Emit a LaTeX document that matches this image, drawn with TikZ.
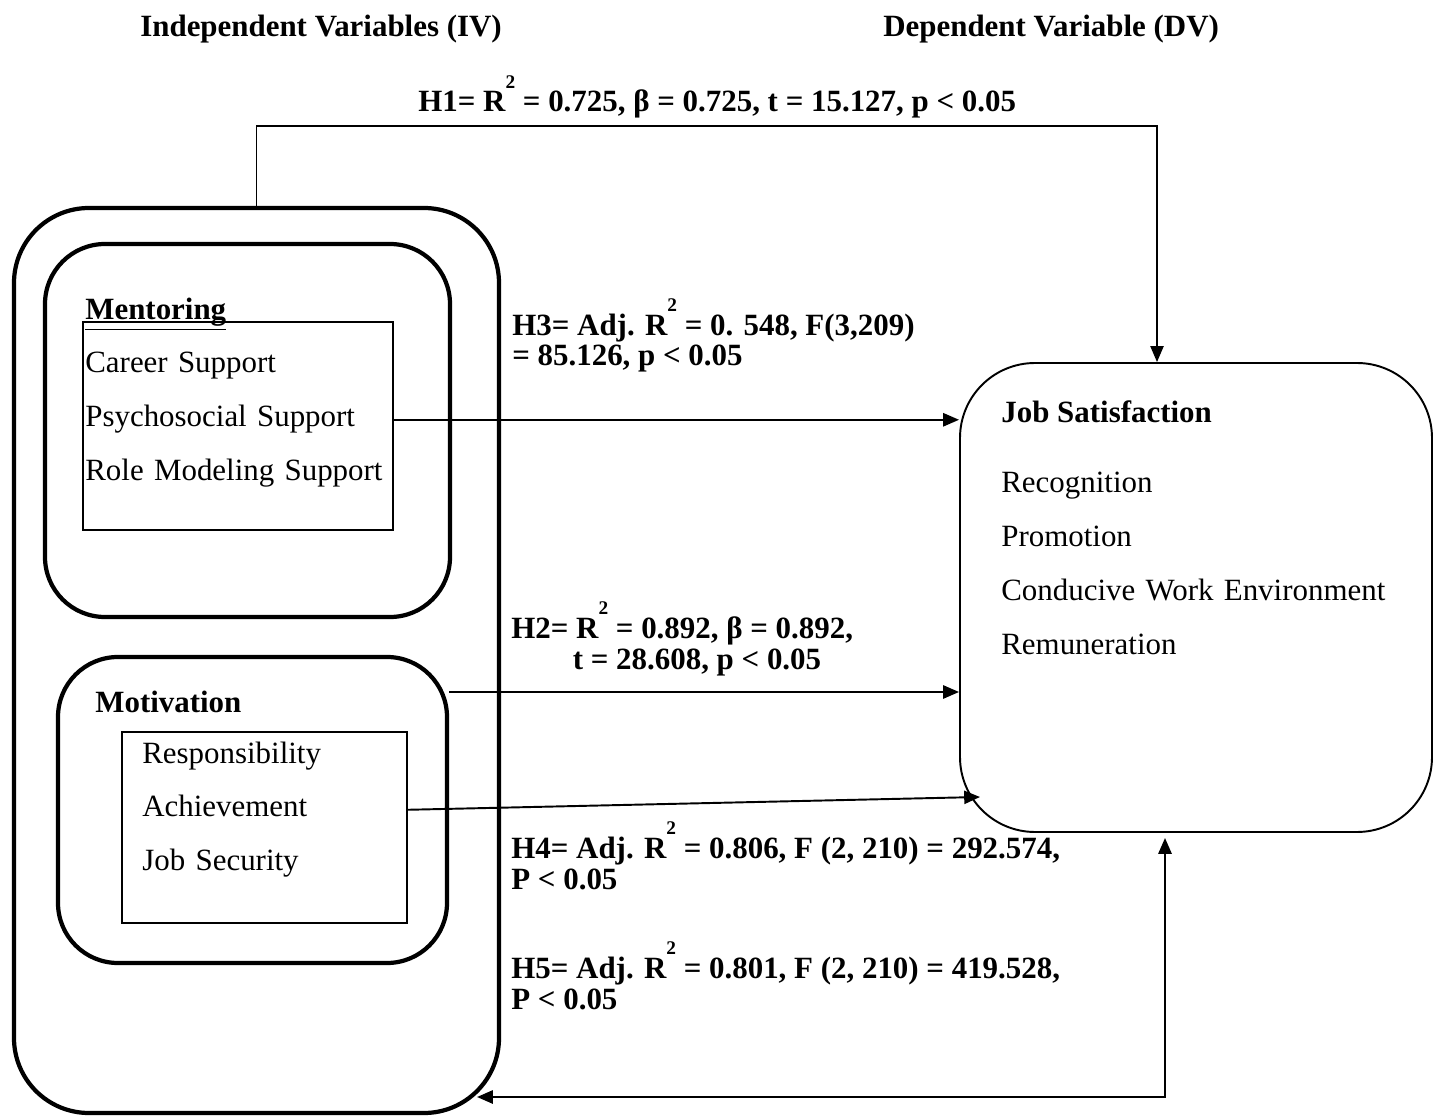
\documentclass[tikz,border=0pt]{standalone}
\usepackage{fontspec}
\setmainfont{Liberation Serif}
\usepackage{tikz}
\usetikzlibrary{arrows.meta, positioning, fit}

\newcommand{\Rsq}{R\raisebox{13.5pt}[0pt][0pt]{\fontsize{11}{11}\selectfont\bfseries 2}}

\begin{document}
\begin{tikzpicture}[
    x=0.02cm, y=-0.02cm,
    node distance=0.5cm,
    every node/.style={font=\fontsize{17.6}{17.6}\selectfont, inner sep=0pt, align=left},
    bigbox/.style={rectangle, draw, line width=2.4pt, rounded corners=1.5cm},
    groupbox/.style={rectangle, draw, line width=2.4pt, rounded corners=1.2cm},
    listbox/.style={rectangle, draw, line width=0.75pt},
    dvbox/.style={rectangle, draw, line width=1.1pt, rounded corners=1.5cm},
    heading/.style={font=\fontsize{17.6}{17.6}\selectfont\bfseries, anchor=base west},
    stat/.style={font=\fontsize{17.6}{17.6}\selectfont\bfseries, anchor=base west},
    item/.style={text height=12pt, text depth=4pt},
    arrow/.style={-{Triangle[length=9pt, width=7.5pt]}, line width=1.1pt},
    dblarrow/.style={{Triangle[length=9pt, width=7.5pt]}-{Triangle[length=9pt, width=7.5pt]}, line width=1.2pt}
]
\useasboundingbox (0,0) rectangle (1438,1118);

% headings
\node (ivhead) [heading] at (140,37) {Independent Variables (IV)};
\node (dvhead) [heading] at (883,37) {Dependent Variable (DV)};

% independent variables
\node (iv)    [bigbox, fit={(14,208) (499,1113)}] {};
\node (ment)  [groupbox, fit={(45,244) (450,617)}] {};
\node (mlist) [listbox, fit={(83,322) (393,530)}] {};
\node (mot)   [groupbox, fit={(58,657) (447,963)}] {};
\node (vlist) [listbox, fit={(122,732) (407,923)}] {};

\node (menthead) [heading] at (85,320) {\underline{Mentoring}};
\node (career) [item, text width=6cm, anchor=base west] at (85,373) {Career Support};
\node (psy)    [item, text width=6cm, below=of career] {Psychosocial Support};
\node (role)   [item, text width=6cm, below=of psy] {Role Modeling Support};

\node (mothead) [heading] at (95,712) {Motivation};
\node (resp) [item, text width=5cm, anchor=base west] at (142,763) {Responsibility};
\node (ach)  [item, text width=5cm, below=of resp] {Achievement};
\node (sec)  [item, text width=5cm, below=of ach] {Job Security};

% dependent variable
\node (js)     [dvbox, fit={(960,363) (1432,832)}] {};
\node (jshead) [heading] at (1001,423) {Job Satisfaction};
\node (recog)  [item, text width=8.5cm, anchor=base west] at (1001,493) {Recognition};
\node (promo)  [item, text width=8.5cm, below=of recog] {Promotion};
\node (env)    [item, text width=8.5cm, below=of promo] {Conducive Work Environment};
\node (remun)  [item, text width=8.5cm, below=of env] {Remuneration};

% hypotheses (base = last line)
\node (h1) [stat] at (418,112) {H1= \Rsq\ = 0.725, β = 0.725, t = 15.127, p < 0.05};
\node (h3) [stat] at (512,366) {H3= Adj. \Rsq\ = 0. 548, F(3,209)\\= 85.126, p < 0.05};
\node (h2) [stat] at (511,669) {H2= \Rsq\ = 0.892, β = 0.892,\\\hspace*{35pt}t = 28.608, p < 0.05};
\node (h4) [stat] at (511,889) {H4= Adj. \Rsq\ = 0.806, F (2, 210) = 292.574,\\P < 0.05};
\node (h5) [stat] at (511,1009) {H5= Adj. \Rsq\ = 0.801, F (2, 210) = 419.528,\\P < 0.05};

% connectors
\coordinate (h1bend) at (0,126);
\coordinate (h2lvl) at (0,692);
\coordinate (h4end) at (980,797);
\coordinate (h5end) at (477,1097);

\draw [arrow, line width=0.8pt] (iv.north) -- (iv.north |- h1bend) -| ([xshift=-0.78cm]js.north);
\draw [arrow] (mlist.east |- psy) -- (js.west |- psy);
\draw [arrow] (mot.east |- h2lvl) -- (js.west |- h2lvl);
\draw [arrow] (vlist.east |- ach) -- (h4end);
\draw [dblarrow, shorten >=0.1cm] (h5end) -| ([xshift=-0.62cm]js.south);
\end{tikzpicture}
\end{document}
